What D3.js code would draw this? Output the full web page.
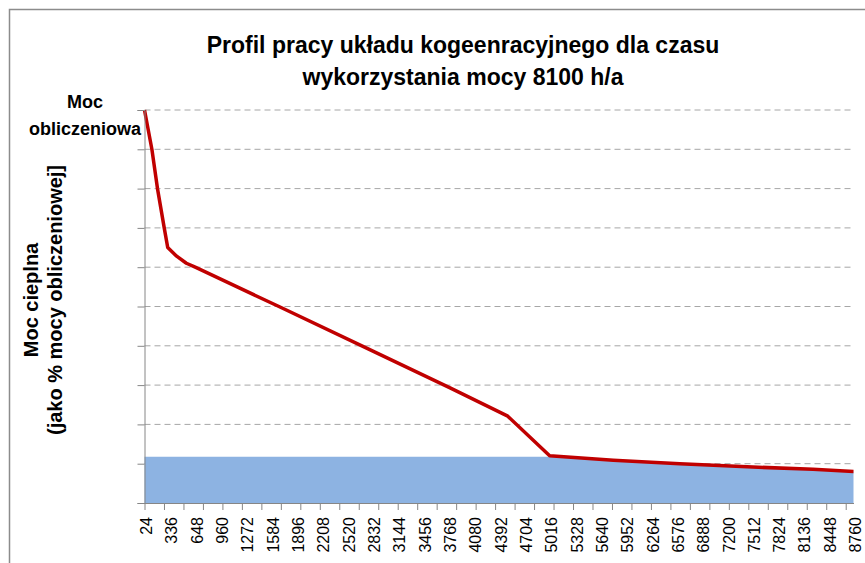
<!DOCTYPE html>
<html>
<head>
<meta charset="utf-8">
<script src="https://cdn.jsdelivr.net/npm/d3@7"></script>
<style>
  body { margin: 0; background: #fff; }
  text { font-family: "Liberation Sans", Arial, sans-serif; }
</style>
</head>
<body>
<div id="chart"></div>
<script>
// Chart values
var hours = [24, 115, 184, 267, 310, 420, 540, 649, 1700, 2780, 3789, 4500, 5016, 5800, 6620, 7450, 8260, 8760];
var heatDemand = [100, 90, 80, 70, 65, 62.8, 61.0, 60, 49.8, 39.2, 29.3, 22.1, 12.0, 10.9, 10.0, 9.2, 8.6, 8.0];
var chpOutput = [11.8, 11.8, 11.8, 11.8, 11.8, 11.8, 11.8, 11.8, 11.8, 11.8, 11.8, 11.8, 11.8, 10.9, 10.0, 9.2, 8.6, 8.0];
var yTicks = [0, 10, 20, 30, 40, 50, 60, 70, 80, 90, 100];
var titleLines = ["Profil pracy układu kogeenracyjnego dla czasu", "wykorzystania mocy 8100 h/a"];
var yTitleLines = ["Moc cieplna", "(jako % mocy obliczeniowej]"];
var topLabelLines = ["Moc", "obliczeniowa"];

// x tick labels every 312 h, tick marks every 240 h
var xLabels = d3.range(24, 8761, 312);
var xTickMarks = d3.range(24, 8761, 240);

var svgWidth = 865;
var svgHeight = 563;

var margin = {
  top: 110,
  right: 11.5,
  bottom: 60,
  left: 144.5
};

var chartWidth = svgWidth - margin.left - margin.right;
var chartHeight = svgHeight - margin.top - margin.bottom;

var svg = d3.select("#chart")
  .append("svg")
  .attr("width", svgWidth)
  .attr("height", svgHeight);

// outer frame
svg.append("rect")
  .attr("x", 9.5)
  .attr("y", 9.5)
  .attr("width", 900)
  .attr("height", 600)
  .attr("fill", "none")
  .attr("stroke", "#8c8c8c")
  .attr("stroke-width", 1.5);

var chartGroup = svg.append("g")
  .attr("transform", `translate(${margin.left}, ${margin.top})`);

var xScale = d3.scaleLinear()
  .domain([24, 8760])
  .range([0, chartWidth]);

var yScale = d3.scaleLinear()
  .domain([0, 100])
  .range([chartHeight, 0]);

// dashed gridlines
chartGroup.selectAll(".grid")
  .data(yTicks.filter(d => d > 0))
  .enter()
  .append("line")
  .attr("class", "grid")
  .attr("x1", 0)
  .attr("x2", chartWidth)
  .attr("y1", d => yScale(d))
  .attr("y2", d => yScale(d))
  .attr("stroke", "#a6a6a6")
  .attr("stroke-dasharray", "6,4");

var points = hours.map((h, i) => ({ h: h, demand: heatDemand[i], chp: chpOutput[i] }));

// blue area: CHP output
var area = d3.area()
  .x(d => xScale(d.h))
  .y0(yScale(0))
  .y1(d => yScale(d.chp));

chartGroup.append("path")
  .datum(points)
  .attr("d", area)
  .attr("fill", "#8db3e2");

// red line: heat demand
var line = d3.line()
  .x(d => xScale(d.h))
  .y(d => yScale(d.demand));

chartGroup.append("path")
  .datum(points)
  .attr("d", line)
  .attr("fill", "none")
  .attr("stroke", "#c00000")
  .attr("stroke-width", 3.5)
  .attr("stroke-linejoin", "round");

// y axis (no labels)
var leftAxis = d3.axisLeft(yScale)
  .tickValues(yTicks)
  .tickSize(7)
  .tickFormat("");

var yAxisG = chartGroup.append("g")
  .call(leftAxis);
yAxisG.select(".domain").attr("stroke", "#868686");
yAxisG.selectAll(".tick line").attr("stroke", "#868686");

// x axis tick marks
var bottomAxis = d3.axisBottom(xScale)
  .tickValues(xTickMarks)
  .tickSizeInner(7)
  .tickSizeOuter(0)
  .tickFormat("");

var xAxisG = chartGroup.append("g")
  .attr("transform", `translate(0, ${chartHeight})`)
  .call(bottomAxis);
xAxisG.select(".domain").attr("stroke", "#868686");
xAxisG.selectAll(".tick line").attr("stroke", "#868686");

// rotated x labels
chartGroup.selectAll(".xlabel")
  .data(xLabels)
  .enter()
  .append("text")
  .attr("class", "xlabel")
  .attr("transform", d => `translate(${xScale(d) + 2}, ${chartHeight + 14}) rotate(-90)`)
  .attr("dy", "0.35em")
  .attr("text-anchor", "end")
  .attr("font-size", "16px")
  .attr("fill", "#000")
  .text(d => d);

// title
svg.selectAll(".title")
  .data(titleLines)
  .enter()
  .append("text")
  .attr("class", "title")
  .attr("x", 463)
  .attr("y", (d, i) => 53 + i * 32)
  .attr("text-anchor", "middle")
  .attr("font-size", "23px")
  .attr("font-weight", "bold")
  .text(d => d);

// label at the top of the y axis
svg.selectAll(".toplabel")
  .data(topLabelLines)
  .enter()
  .append("text")
  .attr("class", "toplabel")
  .attr("x", 85)
  .attr("y", (d, i) => 108 + i * 27)
  .attr("text-anchor", "middle")
  .attr("font-size", "18px")
  .attr("font-weight", "bold")
  .text(d => d);

// y axis title
svg.selectAll(".ytitle")
  .data(yTitleLines)
  .enter()
  .append("text")
  .attr("class", "ytitle")
  .attr("transform", (d, i) => `translate(${38 + i * 24}, 300) rotate(-90)`)
  .attr("text-anchor", "middle")
  .attr("font-size", "20px")
  .attr("font-weight", "bold")
  .text(d => d);
</script>
</body>
</html>
